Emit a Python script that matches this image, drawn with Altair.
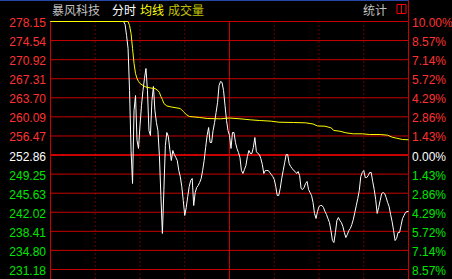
import altair as alt
import pandas as pd

# ---- axis ticks ----
tick_prices = [278.15, 274.54, 270.92, 267.31, 263.70, 260.09, 256.47,
               252.86, 249.25, 245.63, 242.02, 238.41, 234.80, 231.18]
tick_pct = ["10.00%", "8.57%", "7.14%", "5.72%", "4.29%", "2.86%", "1.43%",
            "0.00%", "1.43%", "2.86%", "4.29%", "5.72%", "7.14%", "8.57%"]
prev_close = 252.86
grid_minutes_solid = [0, 120, 240]
grid_minutes_dotted = [30, 60, 90, 150, 180, 210]

# ---- price line (minute index, price) ----
price_minutes = [0, 49] + list(range(50, 241))
price_values = [
    278.15, 278.15,
    277.58, 275.50, 273.04, 265.08, 253.72, 247.47, 261.29, 264.13, 255.61, 254.10,
    258.45, 262.24, 265.08, 267.35, 269.25, 265.08, 257.51, 256.56, 263.19, 265.84,
    261.29, 259.02, 257.51, 252.77, 245.20, 238.00, 246.14, 254.67, 257.13, 256.37,
    253.91, 251.82, 253.72, 252.96, 252.39, 251.82, 249.93, 248.79, 246.90, 244.25,
    241.41, 242.92, 245.01, 246.90, 248.04, 248.41, 243.30, 245.76, 246.71, 247.09,
    247.66, 248.41, 249.93, 251.82, 254.29, 256.56, 258.07, 255.23, 255.23, 257.51,
    259.02, 260.92, 262.81, 266.03, 266.79, 266.60, 265.08, 262.24, 259.40, 257.51,
    256.56, 254.10, 257.13, 257.13, 255.23, 254.10, 253.34, 252.39, 249.93, 249.36,
    250.12, 250.88, 252.58, 253.72, 253.15, 253.15, 254.29, 256.18, 253.53, 253.15,
    252.96, 252.20, 251.07, 249.36, 249.93, 249.93, 249.93, 249.55, 249.17, 248.79,
    248.23, 246.90, 245.20, 245.20, 246.52, 248.41, 249.93, 251.45, 252.96, 252.96,
    251.26, 250.69, 250.31, 249.93, 249.74, 249.36, 249.74, 248.98, 246.52, 246.33,
    246.71, 247.47, 247.85, 246.33, 245.76, 245.20, 243.87, 241.79, 240.84, 242.17,
    243.11, 243.30, 243.30, 242.92, 242.17, 241.60, 240.84, 240.08, 238.57, 236.67,
    236.29, 238.19, 240.46, 241.03, 240.46, 240.08, 239.32, 238.19, 237.24, 237.81,
    238.57, 238.94, 239.70, 240.65, 241.98, 243.30, 244.63, 246.14, 248.79, 249.55,
    249.93, 248.60, 248.60, 248.98, 249.55, 249.55, 247.85, 246.33, 244.44, 241.79,
    242.92, 244.25, 245.57, 245.76, 245.57, 244.82, 243.87, 243.11, 241.60, 240.27,
    238.57, 236.67, 237.05, 238.19, 238.19, 239.51, 240.84, 241.41, 241.98, 242.17,
    242.17,
]

# ---- average line ----
avg_minutes = [0, 52, 53, 54, 55, 56, 57, 58, 59, 60,
               62, 64, 67, 70, 72, 73, 74, 75, 76, 78,
               81, 87, 89, 91, 93, 100, 105, 114, 120, 127,
               134, 140, 148, 153, 163, 171, 176, 179, 184, 188,
               190, 194, 198, 203, 209, 214, 221, 226, 229, 232,
               236, 240]
avg_values = [278.15, 278.15, 277.39, 275.88, 273.04, 270.20, 268.30, 267.35, 266.79, 266.41,
              266.03, 265.74, 265.56, 265.46, 265.08, 264.70, 263.95, 263.38, 262.62, 262.15,
              261.96, 261.67, 261.10, 260.54, 260.16, 259.97, 259.78, 259.72, 259.87, 259.72,
              259.53, 259.40, 259.27, 259.08, 259.02, 258.96, 258.74, 258.36, 258.32, 258.02,
              257.51, 257.37, 257.07, 256.88, 256.88, 256.75, 256.75, 256.62, 256.24, 256.05,
              255.80, 255.75]

stock_name = "暴风科技"
menu_items = ["分时", "均线", "成交量"]
stats_label = "统计"

# ---- styles ----
BG = "#000000"
GRID = "#c80000"
UP = "#ff3232"
DOWN = "#00e600"
FLAT = "#ffffff"
NUM_FONT = "Liberation Sans"
CJK_FONT = "Noto Sans CJK SC"
W, H = 358, 258

df_price = pd.DataFrame({"minute": price_minutes, "price": price_values})
df_avg = pd.DataFrame({"minute": avg_minutes, "price": avg_values})
df_ticks = pd.DataFrame({"price": tick_prices, "pct": tick_pct})
df_ticks["side"] = ["up" if p > prev_close + 0.001 else ("down" if p < prev_close - 0.001 else "flat")
                    for p in tick_prices]
df_solid = pd.DataFrame({"minute": grid_minutes_solid})
df_dotted = pd.DataFrame({"minute": grid_minutes_dotted})
df_right = pd.DataFrame({"minute": [240]})

xs = alt.Scale(domain=[0, 240], nice=False, zero=False)
ys = alt.Scale(domain=[229.286, 278.15], nice=False, zero=False)
X = lambda: alt.X("minute:Q", scale=xs, axis=None)
Y = lambda: alt.Y("price:Q", scale=ys, axis=None)
side_color = alt.Color("side:N", scale=alt.Scale(domain=["up", "flat", "down"],
                                                  range=[UP, FLAT, DOWN]), legend=None)

hgrid = alt.Chart(df_ticks).mark_rule(color=GRID).encode(
    y=Y(), x=alt.value(0), x2=alt.value(W),
    strokeWidth=alt.condition("datum.price == 252.86", alt.value(2), alt.value(1)),
)
vsolid = alt.Chart(df_solid).mark_rule(color=GRID, strokeWidth=1).encode(
    x=X(), y=alt.value(0), y2=alt.value(H))
vdot = alt.Chart(df_dotted).mark_rule(color=GRID, strokeWidth=1, strokeDash=[1, 3]).encode(
    x=X(), y=alt.value(0), y2=alt.value(H))
vright = alt.Chart(df_right).mark_rule(color=GRID, strokeWidth=1).encode(
    x=X(), y=alt.value(-21.5), y2=alt.value(0))

price_line = alt.Chart(df_price).mark_line(color="#ffffff", strokeWidth=1).encode(x=X(), y=Y())
avg_line = alt.Chart(df_avg).mark_line(color="#ffff00", strokeWidth=1).encode(x=X(), y=Y())

left_lbl = alt.Chart(df_ticks).mark_text(align="right", baseline="middle", font=NUM_FONT,
                                         fontSize=12, dy=1.5).encode(
    y=Y(), x=alt.value(-4.5), text=alt.Text("price:Q", format=".2f"), color=side_color)
right_lbl = alt.Chart(df_ticks).mark_text(align="left", baseline="middle", font=NUM_FONT,
                                          fontSize=12, dy=1.5).encode(
    y=Y(), x=alt.value(W + 3.5), text="pct:N", color=side_color)

one = alt.Data(values=[{}])
def header(txt, x, color):
    return alt.Chart(one).mark_text(text=txt, align="left", baseline="middle", font=CJK_FONT,
                                    fontSize=12, color=color).encode(
        x=alt.value(x), y=alt.value(-10.5))

h1 = header(stock_name, 1.5, "#c0c0c0")
h2 = header(menu_items[0], 61.5, "#ffffff")
h3 = header(menu_items[1], 89.5, "#ffff00")
h4 = header(menu_items[2], 117.5, "#c0c000")
h5 = header(stats_label, 312.5, "#c0c0c0")

blue = alt.Chart(one).mark_rule(color="#2848a8", strokeWidth=1).encode(
    x=alt.value(-50.5), x2=alt.value(W), y=alt.value(-21))
icon = alt.Chart(one).mark_rect(filled=False, stroke="#ff0000", strokeWidth=1).encode(
    x=alt.value(346.5), x2=alt.value(355.5), y=alt.value(-17), y2=alt.value(-8))
icon_mid = alt.Chart(one).mark_rule(color="#ff0000", strokeWidth=1).encode(
    x=alt.value(351), y=alt.value(-17), y2=alt.value(-8))

chart = alt.layer(
    hgrid, vsolid, vdot, vright, price_line, avg_line, left_lbl, right_lbl,
    h1, h2, h3, h4, h5, blue, icon, icon_mid,
).properties(
    width=W, height=H, autosize="none", background=BG,
    padding={"left": 50.5, "top": 21.5, "right": 43.5, "bottom": 0},
).configure_view(strokeWidth=0)

chart.save("out.html", embed_options={"renderer": "svg", "actions": False})
